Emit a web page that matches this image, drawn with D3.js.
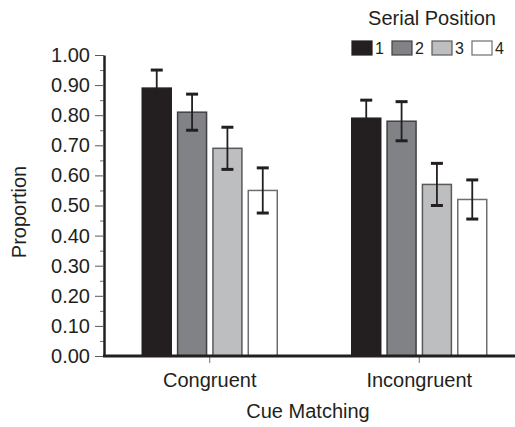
<!DOCTYPE html>
<html>
<head>
<meta charset="utf-8">
<script src="https://cdn.jsdelivr.net/npm/d3@7"></script>
<style>
  body { margin: 0; background: #fff; }
  svg text { font-family: "Liberation Sans", Arial, Helvetica, sans-serif; fill: #231f20; }
</style>
</head>
<body>
<svg id="chart" width="515" height="427"></svg>
<script>
// data
const groups = ["Congruent", "Incongruent"];
const positions = ["1", "2", "3", "4"];
const congruent = [0.89, 0.81, 0.69, 0.55];
const congruentErr = [0.06, 0.06, 0.07, 0.075];
const incongruent = [0.79, 0.78, 0.57, 0.52];
const incongruentErr = [0.06, 0.065, 0.07, 0.065];
const yTicks = [0, 0.1, 0.2, 0.3, 0.4, 0.5, 0.6, 0.7, 0.8, 0.9, 1.0];
const yMinor = [0.05, 0.15, 0.25, 0.35, 0.45, 0.55, 0.65, 0.75, 0.85, 0.95];

const fills = ["#231f20", "#808285", "#bcbec0", "#ffffff"];
const strokes = ["#231f20", "#414042", "#58595b", "#6d6e71"];

const rows = [];
groups.forEach((g, gi) => {
  const vals = gi === 0 ? congruent : incongruent;
  const errs = gi === 0 ? congruentErr : incongruentErr;
  positions.forEach((p, pi) => rows.push({ group: g, pos: p, i: pi, v: vals[pi], e: errs[pi] }));
});

const svg = d3.select("#chart");

const y = d3.scaleLinear().domain([0, 1]).range([356, 55]);
const x0 = d3.scaleBand().domain(groups).range([105, 524]);
const x1 = d3.scaleBand().domain(positions).range([-67.5, 67.5]).paddingInner(0.18);
const cx = d => x0(d.group) + x0.bandwidth() / 2 + x1(d.pos);

// bars
svg.append("g").selectAll("rect")
  .data(rows)
  .join("rect")
  .attr("x", d => cx(d))
  .attr("y", d => y(d.v))
  .attr("width", x1.bandwidth())
  .attr("height", d => y(0) - y(d.v))
  .attr("fill", d => fills[d.i])
  .attr("stroke", d => strokes[d.i])
  .attr("stroke-width", 1.5);

// error bars
const eb = svg.append("g").selectAll("g").data(rows).join("g")
  .attr("transform", d => `translate(${cx(d) + x1.bandwidth() / 2},0)`);
eb.append("line")
  .attr("y1", d => y(d.v + d.e)).attr("y2", d => y(d.v - d.e))
  .attr("stroke", "#231f20").attr("stroke-width", 1.8);
eb.selectAll("line.cap")
  .data(d => [d.v + d.e, d.v - d.e])
  .join("line")
  .attr("class", "cap")
  .attr("x1", -6).attr("x2", 6)
  .attr("y1", v => y(v)).attr("y2", v => y(v))
  .attr("stroke", "#231f20").attr("stroke-width", 3);

// y axis minor ticks
svg.append("g")
  .attr("transform", "translate(104,0)")
  .call(d3.axisLeft(y).tickValues(yMinor).tickSize(4).tickFormat(""))
  .call(g => g.select(".domain").remove())
  .call(g => g.selectAll(".tick line").attr("stroke", "#6d6e71"));

// y axis major ticks
svg.append("g")
  .attr("transform", "translate(104,0)")
  .call(d3.axisLeft(y).tickValues(yTicks).tickSize(9).tickSizeOuter(0).tickPadding(5).tickFormat(d3.format(".2f")))
  .call(g => g.select(".domain").attr("stroke", "#231f20").attr("stroke-width", 2.5))
  .call(g => g.selectAll(".tick line").attr("stroke", "#58595b"))
  .call(g => g.selectAll(".tick text").style("font-size", "20px").attr("fill", "#231f20"));

// x axis
svg.append("g")
  .attr("transform", "translate(0,356)")
  .call(d3.axisBottom(x0).tickSize(7).tickSizeOuter(0).tickPadding(10))
  .call(g => g.select(".domain").remove())
  .call(g => g.selectAll(".tick line").attr("stroke", "#6d6e71"))
  .call(g => g.selectAll(".tick text").style("font-size", "20px").attr("fill", "#231f20"));

svg.append("line")
  .attr("x1", 103).attr("x2", 515)
  .attr("y1", y(0)).attr("y2", y(0))
  .attr("stroke", "#231f20").attr("stroke-width", 3);

// axis titles
svg.append("text")
  .attr("x", 308).attr("y", 418)
  .attr("text-anchor", "middle")
  .style("font-size", "20px")
  .text("Cue Matching");

svg.append("text")
  .attr("transform", "translate(26,212) rotate(-90)")
  .attr("text-anchor", "middle")
  .style("font-size", "20px")
  .text("Proportion");

// legend
svg.append("text")
  .attr("x", 432).attr("y", 25)
  .attr("text-anchor", "middle")
  .style("font-size", "20px")
  .text("Serial Position");

const lg = svg.append("g").selectAll("g").data(positions).join("g")
  .attr("transform", (d, i) => `translate(${352 + i * 40},41)`);
lg.append("rect")
  .attr("width", 20).attr("height", 14)
  .attr("fill", (d, i) => fills[i])
  .attr("stroke", (d, i) => strokes[i])
  .attr("stroke-width", 1.2);
lg.append("text")
  .attr("x", 23).attr("y", 13)
  .style("font-size", "16px")
  .text(d => d);
</script>
</body>
</html>
